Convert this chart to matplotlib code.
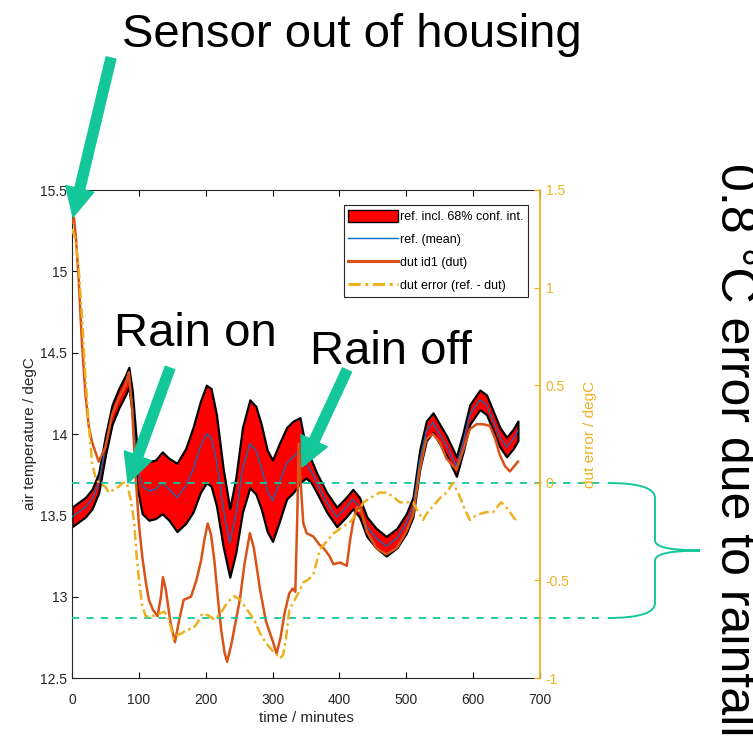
import matplotlib
matplotlib.use("Agg")
import matplotlib.pyplot as plt
import numpy as np
from matplotlib.patches import Patch, PathPatch
from matplotlib.lines import Line2D
from matplotlib.path import Path

# DATA ------------------------------------------------------
ref_t = [0, 10, 20, 30, 40, 50, 60, 70, 80, 85,
         90, 97, 105, 115, 125, 135, 145, 157, 170, 181,
         192, 201, 208, 216, 226, 236, 245, 255, 266, 275,
         283, 292, 300, 310, 321, 331, 341, 350, 358, 366,
         381, 396, 410, 420, 430, 441, 455, 470, 486, 500,
         510, 520, 530, 540, 550, 560, 575, 585, 595, 610,
         620, 629, 640, 650, 660, 667]
ref_mean = [13.49, 13.52, 13.55, 13.6, 13.7, 13.93, 14.12, 14.22, 14.3, 14.35,
            14.2, 13.8, 13.68, 13.65, 13.66, 13.7, 13.66, 13.61, 13.68, 13.78,
            13.92, 14.0, 13.98, 13.84, 13.55, 13.33, 13.5, 13.78, 13.94, 13.9,
            13.8, 13.65, 13.59, 13.7, 13.82, 13.86, 13.9, 13.82, 13.77, 13.7,
            13.58, 13.49, 13.55, 13.6, 13.55, 13.43, 13.36, 13.31, 13.36, 13.45,
            13.55, 13.84, 14.02, 14.07, 14.0, 13.93, 13.8, 13.95, 14.12, 14.21,
            14.18, 14.09, 13.98, 13.92, 13.97, 14.02]
ref_conf = [0.06, 0.06, 0.06, 0.06, 0.06, 0.06, 0.06, 0.06, 0.06, 0.06,
            0.07, 0.12, 0.17, 0.18, 0.18, 0.19, 0.19, 0.21, 0.23, 0.26,
            0.28, 0.3, 0.3, 0.28, 0.24, 0.21, 0.23, 0.26, 0.27, 0.27,
            0.26, 0.25, 0.25, 0.24, 0.22, 0.22, 0.2, 0.09, 0.07, 0.06,
            0.06, 0.06, 0.06, 0.06, 0.06, 0.06, 0.06, 0.06, 0.06, 0.06,
            0.06, 0.06, 0.06, 0.06, 0.06, 0.06, 0.06, 0.06, 0.06, 0.06,
            0.06, 0.06, 0.06, 0.06, 0.06, 0.06]

dut_t = [0, 3, 6, 10, 15, 20, 25, 30, 40, 50,
         60, 70, 80, 85, 90, 95, 100, 105, 110, 115,
         121, 128, 133, 136, 140, 147, 154, 160, 167, 178,
         186, 193, 198, 203, 208, 213, 218, 223, 228, 232,
         238, 245, 251, 258, 266, 272, 281, 290, 300, 306,
         312, 318, 325, 330, 334, 337, 339, 342, 346, 351,
         361, 370, 376, 385, 391, 401, 411, 416, 421, 426,
         431, 441, 455, 470, 486, 500, 510, 520, 530, 540,
         550, 560, 575, 585, 595, 605, 615, 625, 633, 640,
         648, 655, 661, 667]
dut = [15.3, 15.33, 15.2, 14.95, 14.55, 14.25, 14.05, 13.95, 13.83, 13.92,
       14.12, 14.22, 14.3, 14.38, 14.15, 13.75, 13.45, 13.25, 13.1, 12.98,
       12.92, 12.88, 13.0, 13.12, 13.05, 12.85, 12.72, 12.85, 12.98, 13.0,
       13.1, 13.22, 13.35, 13.45, 13.38, 13.22, 13.0, 12.8, 12.66, 12.6,
       12.7, 12.85, 12.98, 13.2, 13.39, 13.3, 13.05, 12.85, 12.73, 12.65,
       12.75, 12.9, 13.02, 13.05, 13.03, 13.5, 13.94, 13.7, 13.45, 13.39,
       13.37, 13.32, 13.3, 13.25, 13.2, 13.21, 13.19, 13.35, 13.47, 13.55,
       13.55, 13.4, 13.3, 13.26, 13.3, 13.4, 13.5, 13.78, 13.97, 14.0,
       13.95, 13.85, 13.78, 13.9, 14.03, 14.06, 14.06, 14.05, 13.97, 13.87,
       13.8, 13.77, 13.8, 13.83]

err_t = [0, 5, 10, 15, 20, 25, 30, 35, 40, 50,
         55, 60, 70, 76, 82, 88, 93, 97, 101, 105,
         110, 115, 123, 131, 138, 145, 152, 158, 165, 172,
         180, 187, 195, 204, 213, 222, 233, 242, 252, 262,
         272, 281, 290, 300, 306, 311, 316, 320, 325, 333,
         341, 346, 352, 361, 371, 381, 391, 403, 416, 426,
         436, 450, 460, 470, 480, 490, 500, 510, 518, 525,
         532, 540, 550, 560, 570, 580, 588, 595, 603, 610,
         620, 630, 637, 642, 648, 655, 661, 667]
err = [1.3, 1.25, 1.1, 0.85, 0.55, 0.3, 0.1, 0.03, 0.0, -0.02,
       -0.05, -0.04, -0.02, 0.0, 0.0, -0.09, -0.2, -0.39, -0.52, -0.63,
       -0.68, -0.69, -0.68, -0.67, -0.66, -0.7, -0.8, -0.78, -0.77, -0.75,
       -0.75, -0.72, -0.67, -0.68, -0.7, -0.67, -0.61, -0.58, -0.6, -0.65,
       -0.7, -0.77, -0.82, -0.86, -0.88, -0.9, -0.88, -0.8, -0.65, -0.6,
       -0.55, -0.51, -0.5, -0.47, -0.34, -0.3, -0.26, -0.23, -0.2, -0.16,
       -0.1, -0.07, -0.05, -0.05, -0.07, -0.1, -0.1, -0.1, -0.15, -0.19,
       -0.15, -0.12, -0.08, -0.05, 0.0, -0.07, -0.14, -0.19, -0.17, -0.16,
       -0.15, -0.15, -0.12, -0.1, -0.12, -0.15, -0.18, -0.2]

# band of 0.8 degC drop due to rain (left axis)
rain_levels = [13.7, 12.87]

# Styles ---------------------------------------------------
teal = "#14c79a"
c_mean = "#0072bd"
c_dut = "#d95319"
c_err = "#edb120"
small_font = ["Liberation Sans Narrow", "Liberation Sans", "DejaVu Sans"]
big_font = ["Liberation Sans", "DejaVu Sans"]

W, H = 753, 742
fig = plt.figure(figsize=(W / 100, H / 100), dpi=100)
ax = fig.add_axes([72 / W, 64 / H, 468 / W, 488 / H])
ax2 = ax.twinx()

lo = np.array(ref_mean) - np.array(ref_conf)
hi = np.array(ref_mean) + np.array(ref_conf)
ax.fill_between(ref_t, lo, hi, facecolor="red", edgecolor="black", lw=1.6, zorder=2)
ax.plot(ref_t, ref_mean, color=c_mean, lw=0.9, zorder=3)
ax.plot(dut_t, dut, color=c_dut, lw=1.8, zorder=4)
ax2.plot(err_t, err, color=c_err, lw=1.8, ls=(0, (4, 1.5, 1, 1.5)))

# dashed teal guides, running out past the right edge
for lvl in rain_levels:
    ax.plot([0, 800], [lvl, lvl], color=teal, lw=1.3, ls=(0, (4, 4)),
            clip_on=False, zorder=5)

ax.set_xlim(0, 700)
ax.set_ylim(12.5, 15.5)
ax2.set_ylim(-1, 1.5)
ax.set_xticks(np.arange(0, 701, 100))
ax.set_yticks(np.arange(12.5, 15.51, 0.5))
ax.set_yticklabels(["12.5", "13", "13.5", "14", "14.5", "15", "15.5"])
ax2.set_yticks([-1, -0.5, 0, 0.5, 1, 1.5])
ax2.set_yticklabels(["-1", "-0.5", "0", "0.5", "1", "1.5"])

ax.tick_params(direction="in", length=4, top=True, right=False, labelsize=10,
               labelcolor="#262626", width=0.8)
ax.tick_params(axis="x", pad=11)
ax2.tick_params(direction="in", length=4, colors=c_err, labelsize=10, width=0.8, pad=4)
for lab in ax.get_xticklabels() + ax.get_yticklabels() + ax2.get_yticklabels():
    lab.set_family(small_font)
for side in ["left", "bottom", "top"]:
    ax.spines[side].set_color("#262626")
ax2.spines["right"].set_color(c_err)
ax2.spines["right"].set_linewidth(1.3)
ax.spines["right"].set_visible(False)
ax2.spines["left"].set_visible(False)
ax2.spines["top"].set_visible(False)
ax2.spines["bottom"].set_visible(False)

ax.set_xlabel("time / minutes", fontsize=11, color="#262626", family=small_font, labelpad=3)
ax.set_ylabel("air temperature / degC", fontsize=11, color="#262626", family=small_font, labelpad=2)
ax2.set_ylabel("dut error / degC", fontsize=11, color=c_err, family=small_font,
               rotation=90, labelpad=10)

handles = [Patch(facecolor="red", edgecolor="black", lw=1.0),
           Line2D([], [], color=c_mean, lw=1),
           Line2D([], [], color=c_dut, lw=2.2),
           Line2D([], [], color=c_err, lw=2.2, ls=(0, (4, 1.5, 1, 1.5)))]
labels = ["ref. incl. 68% conf. int.", "ref. (mean)", "dut id1 (dut)", "dut error (ref. - dut)"]
leg = ax2.legend(handles, labels, loc="upper right", bbox_to_anchor=(0.974, 0.969),
                 prop={"family": small_font, "size": 9}, fancybox=False,
                 edgecolor="#262626", framealpha=1, handlelength=4.0,
                 handleheight=1.2, handletextpad=0.15, borderpad=0.35,
                 labelspacing=0.75, borderaxespad=0)
leg.get_frame().set_linewidth(0.8)

# Annotations ----------------------------------------------
fig.text(352 / W, (H - 47) / H, "Sensor out of housing", fontsize=34,
         family=big_font, ha="center", va="baseline")
fig.text(195 / W, (H - 346) / H, "Rain on", fontsize=34,
         family=big_font, ha="center", va="baseline")
fig.text(391 / W, (H - 364) / H, "Rain off", fontsize=34,
         family=big_font, ha="center", va="baseline")
fig.text(734 / W, (H - 163) / H, "0.8 °C error due to rainfall", fontsize=36,
         family=big_font, ha="center", va="top", rotation=270)

arrows = [((111, 58), (73, 217)), ((170, 368), (128, 483)), ((347, 370), (302, 467))]
for (x0, y0), (x1, y1) in arrows:
    fig.add_artist(matplotlib.patches.FancyArrowPatch(
        (x0 / W, (H - y0) / H), (x1 / W, (H - y1) / H), transform=fig.transFigure,
        arrowstyle="simple,head_length=1.3,head_width=1.3,tail_width=0.45",
        mutation_scale=16, color=teal, shrinkA=0, shrinkB=0, zorder=10))

# curly brace on the right
bx, by0, by1, tip = 655, 483, 618, 700
ym = (by0 + by1) / 2
verts = [(608, by0), (bx, by0), (bx, by0 + 15),
         (bx, ym - 10), (bx, ym), (tip, ym),
         (bx, ym), (bx, ym + 10),
         (bx, by1 - 15), (bx, by1), (608, by1)]
codes = [Path.MOVETO, Path.CURVE3, Path.CURVE3,
         Path.LINETO, Path.CURVE3, Path.CURVE3,
         Path.CURVE3, Path.CURVE3,
         Path.LINETO, Path.CURVE3, Path.CURVE3]
verts = [(x / W, (H - y) / H) for x, y in verts]
fig.add_artist(PathPatch(Path(verts, codes), transform=fig.transFigure,
                         fill=False, edgecolor=teal, lw=1.4))

fig.savefig("out.png", dpi=100)
